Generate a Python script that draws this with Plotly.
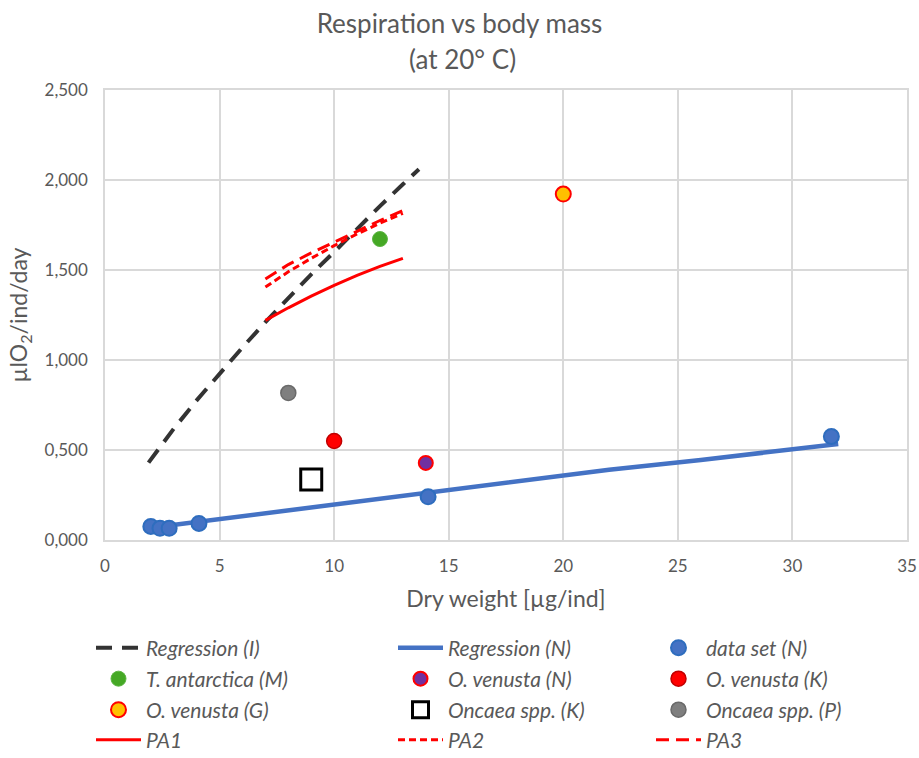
import plotly.graph_objects as go

# ---- data ----
reg_i_x = [1.9, 3, 4, 5, 6, 7, 8, 9, 10, 11, 12, 13, 13.7]
reg_i_y = [0.43, 0.618, 0.776, 0.926, 1.07, 1.21, 1.345, 1.476, 1.60, 1.73, 1.855, 1.976, 2.06]

reg_n_x = [2, 4, 6, 8, 10, 14, 18, 22, 26, 30, 32]
reg_n_y = [0.068, 0.10, 0.135, 0.168, 0.20, 0.265, 0.33, 0.39, 0.445, 0.50, 0.533]

data_n_x = [2.0, 2.4, 2.8, 4.1, 14.1, 31.7]
data_n_y = [0.075, 0.065, 0.065, 0.092, 0.24, 0.575]

t_ant_x, t_ant_y = [12.0], [1.672]
ov_n_x, ov_n_y = [14.0], [0.428]
ov_k_x, ov_k_y = [10.0], [0.55]
ov_g_x, ov_g_y = [20.0], [1.922]
onc_k_x, onc_k_y = [9.0], [0.336]
onc_p_x, onc_p_y = [8.0], [0.817]

pa1_x = [7, 8, 9, 10, 11, 12, 13]
pa1_y = [1.22, 1.29, 1.355, 1.415, 1.47, 1.52, 1.565]
pa2_x = [7, 8, 9, 10, 11, 12, 13]
pa2_y = [1.405, 1.49, 1.565, 1.635, 1.70, 1.76, 1.815]
pa3_x = [7, 8, 9, 10, 11, 12, 13]
pa3_y = [1.45, 1.53, 1.595, 1.655, 1.715, 1.775, 1.83]

x_ticks = [0, 5, 10, 15, 20, 25, 30, 35]
y_ticks = [0, 0.5, 1.0, 1.5, 2.0, 2.5]

FONT = "Lato"
GREY_TXT = "#595959"
FW, FH = 919, 758

fig = go.Figure()
traces = [
    go.Scatter(x=reg_i_x, y=reg_i_y, mode="lines", name="Regression (I)",
               line=dict(color="#333333", width=4, dash="16px,10px")),
    go.Scatter(x=reg_n_x, y=reg_n_y, mode="lines", name="Regression (N)",
               line=dict(color="#4472C4", width=4.5)),
    go.Scatter(x=data_n_x, y=data_n_y, mode="markers", name="data set (N)",
               marker=dict(color="#4472C4", size=15, line=dict(color="#2E6DBE", width=2))),
    go.Scatter(x=t_ant_x, y=t_ant_y, mode="markers", name="T. antarctica (M)",
               marker=dict(color="#45A825", size=15, line=dict(color="#5DB544", width=1))),
    go.Scatter(x=ov_n_x, y=ov_n_y, mode="markers", name="O. venusta (N)",
               marker=dict(color="#7030A0", size=14, line=dict(color="#FF0000", width=2))),
    go.Scatter(x=ov_k_x, y=ov_k_y, mode="markers", name="O. venusta (K)",
               marker=dict(color="#FF0000", size=15, line=dict(color="#C00000", width=1.5))),
    go.Scatter(x=ov_g_x, y=ov_g_y, mode="markers", name="O. venusta (G)",
               marker=dict(color="#FFC000", size=15, line=dict(color="#FF0000", width=2))),
    go.Scatter(x=onc_k_x, y=onc_k_y, mode="markers", name="Oncaea spp. (K)",
               marker=dict(color="white", size=21, symbol="square", line=dict(color="black", width=3))),
    go.Scatter(x=onc_p_x, y=onc_p_y, mode="markers", name="Oncaea spp. (P)",
               marker=dict(color="#7F7F7F", size=15, line=dict(color="#6A6A6A", width=1.5))),
    go.Scatter(x=pa1_x, y=pa1_y, mode="lines", name="PA1",
               line=dict(color="#FF0000", width=3)),
    go.Scatter(x=pa2_x, y=pa2_y, mode="lines", name="PA2",
               line=dict(color="#FF0000", width=3, dash="7px,4px")),
    go.Scatter(x=pa3_x, y=pa3_y, mode="lines", name="PA3",
               line=dict(color="#FF0000", width=3, dash="13px,7px")),
]

# legend placement: 4 rows x 3 columns, one small legend per entry
L, T, W, H = 105, 90, 802, 450
row_px = [648, 679, 710, 740]
col_px = [91, 393, 651]
legends = {}
for i, tr in enumerate(traces):
    r, c = divmod(i, 3)
    key = f"legend{i + 2}"
    tr.legend = key
    fig.add_trace(tr)
    legends[key] = dict(
        xref="container", yref="container",
        x=col_px[c] / FW, y=1 - row_px[r] / FH,
        xanchor="left", yanchor="middle", orientation="h",
        bgcolor="rgba(0,0,0,0)", borderwidth=0,
        font=dict(family=FONT, size=21, color=GREY_TXT, style="italic"),
        itemwidth=45,
    )

fig.update_layout(
    width=FW, height=FH,
    margin=dict(l=L, r=FW - L - W, t=T, b=FH - T - H, autoexpand=False),
    paper_bgcolor="white", plot_bgcolor="white",
    separators=",.",
    font=dict(family=FONT, color=GREY_TXT),
    title=dict(text="Respiration vs body mass", x=0.5, xanchor="center",
               y=1 - 24 / FH, yanchor="middle",
               font=dict(family=FONT, size=26, color=GREY_TXT)),
    annotations=[dict(text="(at 20° C)", xref="paper", yref="paper", x=0.5 + (462 - L - W / 2) / W,
                      y=(T + H - 59) / H, xanchor="center", yanchor="middle", showarrow=False,
                      font=dict(family=FONT, size=26, color=GREY_TXT))],
    **legends,
)
fig.update_xaxes(range=[0, 35], tickvals=x_ticks, showgrid=True, gridcolor="#D9D9D9", gridwidth=1.5,
                 showline=True, linecolor="#D9D9D9", linewidth=1.5, mirror=True, zeroline=False,
                 ticks="", ticklabelstandoff=10, tickfont=dict(family=FONT, size=17, color=GREY_TXT),
                 title=dict(text="Dry weight [µg/ind]", font=dict(family=FONT, size=23, color=GREY_TXT),
                            standoff=16))
fig.update_yaxes(range=[0, 2.5], tickvals=y_ticks, tickformat=".3f", showgrid=True, gridcolor="#D9D9D9",
                 gridwidth=1.5, showline=True, linecolor="#D9D9D9", linewidth=1.5, mirror=True,
                 zeroline=False, ticks="", ticklabelstandoff=12, tickfont=dict(family=FONT, size=17, color=GREY_TXT),
                 title=dict(text="µlO<sub>2</sub>/ind/day", font=dict(family=FONT, size=23, color=GREY_TXT),
                            standoff=10))

fig.write_html("out.html")
